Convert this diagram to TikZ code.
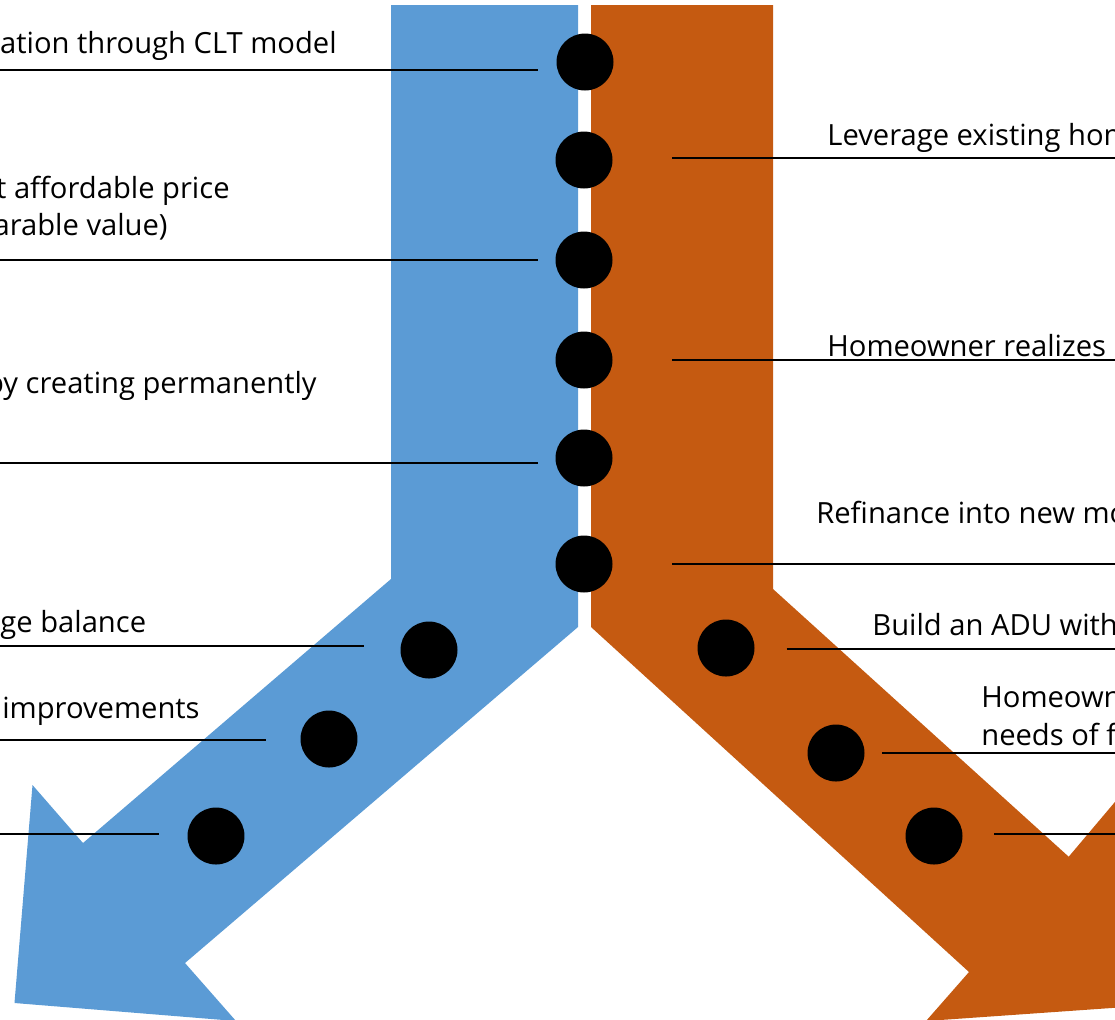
\documentclass[tikz,border=0pt]{standalone}
\usepackage{fontspec}
\setmainfont{Open Sans}
\definecolor{pathblue}{HTML}{5B9BD5}
\definecolor{pathorange}{HTML}{C55A11}
\tikzset{
  milestone/.style={circle, fill=black, inner sep=0pt, minimum size=1.14cm},
  leader/.style={line width=1.2pt},
  caption/.style={inner sep=0pt, font=\fontsize{16.6}{20}\selectfont},
}
\begin{document}
\begin{tikzpicture}[x=0.02cm, y=-0.02cm]
  \useasboundingbox (0,0) rectangle (1115,1019);
  \clip (0,0) rectangle (1115,1019);
  % Arrows
  \fill[pathblue] (391,5) -- (578,5) -- (578,627) -- (185,963) -- (236,1021)
    -- (14.5,1003) -- (32.5,785) -- (83,843) -- (391,579) -- cycle;
  \fill[pathorange] (591,5) -- (773,5) -- (773,589) -- (1068.7,856.7) -- (1125,790)
    -- (1140,1006) -- (926,1021) -- (969,972) -- (591,627) -- cycle;
  % Leader lines
  \foreach \n/\xa/\xb/\y in {l1/0/537.5/70, l2/0/537.5/260, l3/0/537.5/463,
      l4/0/363.5/646, l5/0/266/740, l6/0/159/834,
      r1/672/1115/158, r2/672/1115/360, r3/672/1115/564,
      r4/786.5/1115/649, r5/882/1115/753, r6/994/1115/834} {
    \coordinate (\n-a) at (\xa,\y);
    \coordinate (\n-b) at (\xb,\y);
    \draw[leader] (\n-a) -- (\n-b);
  }
  % Nodes
  \node (s1) [milestone] at (585,62) {};
  \node (s2) [milestone] at (584,160) {};
  \node (s3) [milestone] at (584,260) {};
  \node (s4) [milestone] at (584,360) {};
  \node (s5) [milestone] at (584,458) {};
  \node (s6) [milestone] at (584,564) {};
  \node (b1) [milestone] at (429,650) {};
  \node (b2) [milestone] at (329,739) {};
  \node (b3) [milestone] at (216,836) {};
  \node (o1) [milestone] at (726,648) {};
  \node (o2) [milestone] at (836,753) {};
  \node (o3) [milestone] at (934,836) {};
  % Labels
  \node (clt) [caption, anchor=base east] at (337,53) {ation through CLT model};
  \node (price-a) [caption, anchor=base east] at (230,198) {t affordable price};
  \node (price-b) [caption, anchor=base east] at (168,235) {arable value)};
  \node (perm) [caption, anchor=base east] at (317,393) {by creating permanently};
  \node (balance) [caption, anchor=base east] at (146.5,632) {ge balance};
  \node (improve) [caption, anchor=base east] at (200,718) {improvements};
  \node (leverage) [caption, anchor=base west] at (827,145) {Leverage existing hom};
  \node (realize) [caption, anchor=base west] at (827,356) {Homeowner realizes};
  \node (refi) [caption, anchor=base west] at (816,523.5) {Refinance into new mo};
  \node (adu) [caption, anchor=base west] at (872,635) {Build an ADU with};
  \node (needs-a) [caption, anchor=base west] at (981,707) {Homeown};
  \node (needs-b) [caption, anchor=base west] at (981,745) {needs of f};
\end{tikzpicture}
\end{document}
